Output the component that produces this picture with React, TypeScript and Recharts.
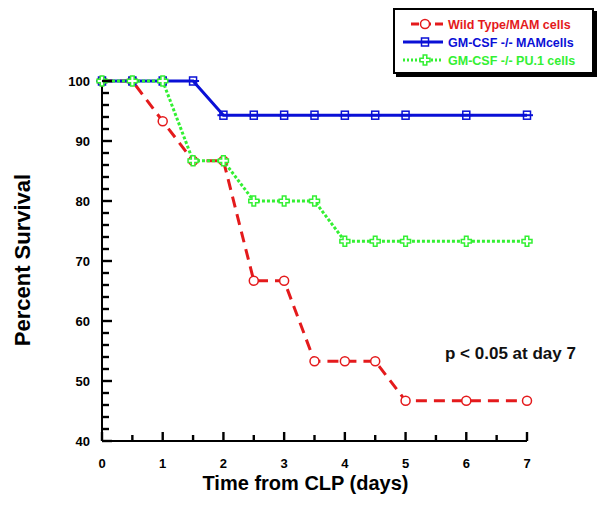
import React from "react";
import { LineChart, Line, XAxis, YAxis, ReferenceLine } from "recharts";

const days = [0, 0.5, 1, 1.5, 2, 2.5, 3, 3.5, 4, 4.5, 5, 6, 7];
const wildType = [100, 100, 93.3, 86.7, 86.7, 66.7, 66.7, 53.3, 53.3, 53.3, 46.7, 46.7, 46.7];
const gmMam = [100, 100, 100, 100, 94.3, 94.3, 94.3, 94.3, 94.3, 94.3, 94.3, 94.3, 94.3];
const gmPu1 = [100, 100, 100, 86.7, 86.7, 80, 80, 80, 73.3, 73.3, 73.3, 73.3, 73.3];

const xTicks = [0, 0.5, 1, 1.5, 2, 2.5, 3, 3.5, 4, 4.5, 5, 5.5, 6, 6.5, 7];
const yTicks = [40, 42, 44, 46, 48, 50, 52, 54, 56, 58, 60, 62, 64, 66, 68, 70, 72, 74, 76, 78, 80, 82, 84, 86, 88, 90, 92, 94, 96, 98, 100];

const RED = "#e41a1c";
const BLUE = "#0a10d6";
const GREEN = "#33f033";
const FONT = "'Liberation Sans', Arial, sans-serif";

const data = days.map((d, i) => ({
  day: d,
  wt: wildType[i],
  mam: gmMam[i],
  pu1: gmPu1[i]
}));

function XTick(props: any) {
  const x = Number(props.x);
  const y = Number(props.y);
  const value = props.payload.value;
  const major = Number.isInteger(value);
  return (
    <g>
      <rect x={x - 1.2} y={y - (major ? 9 : 6)} width={2.4} height={major ? 9 : 6} fill="#000" />
      {major && (
        <text x={x} y={y + 27} textAnchor="middle" fontFamily={FONT} fontWeight="bold" fontSize={13} fill="#000">
          {value}
        </text>
      )}
    </g>
  );
}

function YTick(props: any) {
  const x = Number(props.x);
  const y = Number(props.y);
  const value = props.payload.value;
  const major = value % 10 === 0;
  return (
    <g>
      <rect x={x} y={y - 1.2} width={major ? 10 : 7} height={2.4} fill="#000" />
      {major && (
        <text x={x - 12} y={y + 5} textAnchor="end" fontFamily={FONT} fontWeight="bold" fontSize={13} fill="#000">
          {value}
        </text>
      )}
    </g>
  );
}

function CircleDot(props: any) {
  const { cx, cy, index } = props;
  return <circle key={`c${index}`} cx={cx} cy={cy} r={4.5} fill="#fff" stroke={RED} strokeWidth={1.5} />;
}

function SquareDot(props: any) {
  const { cx, cy, index } = props;
  return (
    <g key={`s${index}`}>
      <rect x={cx - 3.5} y={cy - 4} width={7} height={8} fill="none" stroke={BLUE} strokeWidth={1.5} />
      <line x1={cx - 6} x2={cx + 6} y1={cy} y2={cy} stroke={BLUE} strokeWidth={2} />
    </g>
  );
}

function PlusDot(props: any) {
  const { cx, cy, index } = props;
  const a = 1.8;
  const b = 5;
  const d = `M${cx - a},${cy - b} H${cx + a} V${cy - a} H${cx + b} V${cy + a} H${cx + a} V${cy + b} H${cx - a} V${cy + a} H${cx - b} V${cy - a} H${cx - a} Z`;
  return <path key={`p${index}`} d={d} fill="#fff" stroke={GREEN} strokeWidth={1.5} />;
}

const legendItems = [
  { label: "Wild Type/MAM cells", color: RED, dash: "8 4", start: 16, Dot: CircleDot },
  { label: "GM-CSF -/- MAMcells", color: BLUE, dash: undefined, start: 8, Dot: SquareDot },
  { label: "GM-CSF -/- PU.1 cells", color: GREEN, dash: "2 2", start: 8, Dot: PlusDot }
];

export default function App() {
  return (
    <div style={{ position: "absolute", left: 0, top: 0, width: 603, height: 508 }}>
      <LineChart width={603} height={508} data={data} margin={{ top: 81, right: 76, bottom: 17, left: 42 }}>
        <XAxis
          dataKey="day"
          type="number"
          domain={[0, 7]}
          ticks={xTicks}
          interval={0}
          tickSize={0}
          tickMargin={0}
          tickLine={false}
          axisLine={false}
          tick={(p: any) => <XTick {...p} />}
          height={50}
        />
        <YAxis
          type="number"
          domain={[40, 100]}
          ticks={yTicks}
          interval={0}
          tickSize={0}
          tickMargin={0}
          tickLine={false}
          axisLine={false}
          tick={(p: any) => <YTick {...p} />}
          width={60}
        />
        <ReferenceLine x={0} stroke="#000" strokeWidth={2} />
        <ReferenceLine y={40} stroke="#000" strokeWidth={2} />
        <Line type="linear" dataKey="wt" stroke={RED} strokeWidth={3} strokeDasharray="11 7" dot={CircleDot} activeDot={false} isAnimationActive={false} />
        <Line type="linear" dataKey="mam" stroke={BLUE} strokeWidth={3} dot={SquareDot} activeDot={false} isAnimationActive={false} />
        <Line type="linear" dataKey="pu1" stroke={GREEN} strokeWidth={3} strokeDasharray="3 2" dot={PlusDot} activeDot={false} isAnimationActive={false} />
      </LineChart>
      <div
        style={{
          position: "absolute",
          left: 0,
          top: 472,
          width: 603,
          paddingLeft: 8,
          textAlign: "center",
          fontFamily: FONT,
          fontWeight: "bold",
          fontSize: 20,
          color: "#000",
          boxSizing: "border-box"
        }}
      >
        Time from CLP (days)
      </div>
      <div
        style={{
          position: "absolute",
          left: 23,
          top: 260,
          transform: "translate(-50%, -50%) rotate(-90deg)",
          fontFamily: FONT,
          fontWeight: "bold",
          fontSize: 22,
          color: "#000",
          whiteSpace: "nowrap"
        }}
      >
        Percent Survival
      </div>
      <div
        style={{
          position: "absolute",
          left: 445,
          top: 344,
          fontFamily: FONT,
          fontWeight: "bold",
          fontSize: 17,
          color: "#111",
          whiteSpace: "nowrap"
        }}
      >
        p &lt; 0.05 at day 7
      </div>
      <div
        style={{
          position: "absolute",
          left: 393,
          top: 8,
          width: 197,
          height: 62,
          border: "2px solid #000",
          boxShadow: "3px 3px 0 #000",
          background: "#fff"
        }}
      >
        <svg width={197} height={62} style={{ position: "absolute", left: 0, top: 0 }}>
          {legendItems.map((item, i) => {
            const cy = 14 + i * 18;
            return (
              <g key={item.label}>
                <line x1={item.start} x2={48} y1={cy} y2={cy} stroke={item.color} strokeWidth={3} strokeDasharray={item.dash} />
                {item.Dot({ cx: 30, cy, index: i })}
                <text x={53} y={cy + 4.5} fontFamily={FONT} fontWeight="bold" fontSize={12.5} fill={item.color}>
                  {item.label}
                </text>
              </g>
            );
          })}
        </svg>
      </div>
    </div>
  );
}
